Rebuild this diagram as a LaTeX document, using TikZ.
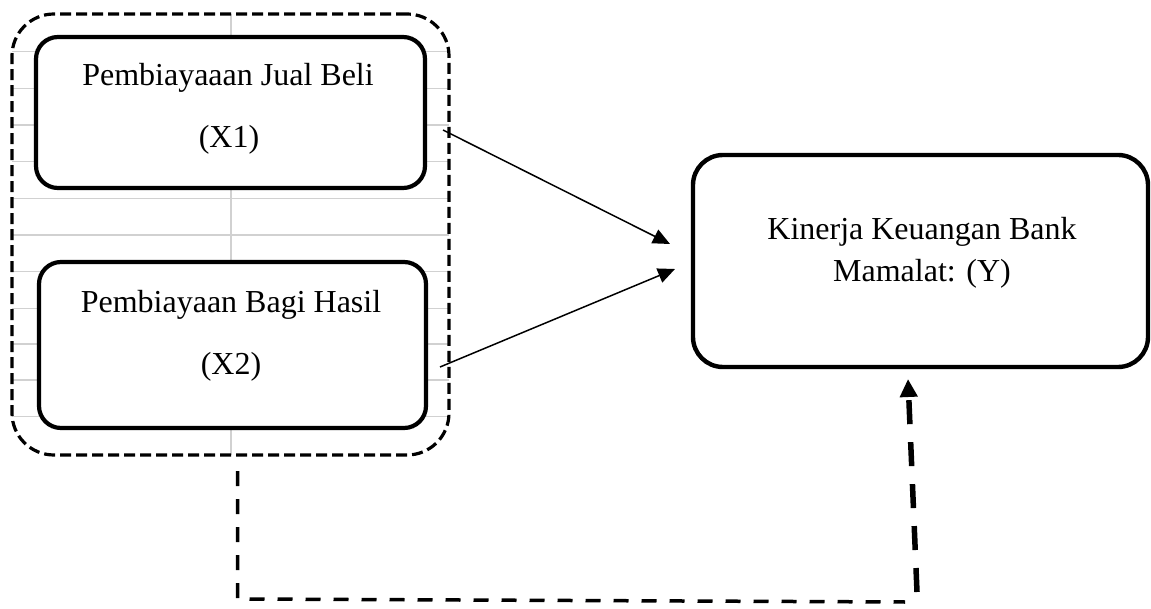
\documentclass[tikz,border=0pt]{standalone}
\usepackage{fontspec}
\setmainfont{Liberation Serif}
\usetikzlibrary{arrows.meta}
\begin{document}
\begin{tikzpicture}[x=1pt,y=-1pt,
  box/.style={draw=black, line width=4.2pt, rounded corners=22pt, fill=white, inner sep=0pt},
  groupbox/.style={draw=black, line width=3.2pt, dash pattern=on 11pt off 5pt, rounded corners=42pt, inner sep=0pt},
  ybox/.style={draw=black, line width=4.4pt, rounded corners=30pt, inner sep=0pt},
  lbl/.style={anchor=base, font=\fontsize{32}{38}\selectfont, inner sep=0pt},
  gridline/.style={draw=black!18, line width=1.5pt},
  conn/.style={draw=black, line width=1.5pt, -{Triangle[length=17pt,width=15pt]}},
  fbline/.style={draw=black, line width=3.5pt, dash pattern=on 15pt off 13pt},
  upline/.style={draw=black, line width=5.5pt, dash pattern=on 24pt off 18pt, -{Triangle[length=18pt,width=17pt]}}]
\useasboundingbox (0,0) rectangle (1151,609);
% background spreadsheet grid
\begin{scope}
\clip[rounded corners=42pt] (12,14) rectangle (449,455);
\foreach \yy in {51.7,88.3,125,161.7,198.3,235,271.7,308.3,344,380,416.7}
  \draw[gridline] (12,\yy) -- (449,\yy);
\draw[gridline] (231,14) -- (231,455);
\end{scope}
% group box
\node[groupbox, minimum width=437pt, minimum height=441pt] (grp) at (230.5,234.5) {};
% boxes
\node[box, minimum width=389pt, minimum height=151pt] (x1) at (230.5,112.5) {};
\node[box, minimum width=387pt, minimum height=166pt] (x2) at (232.5,345) {};
\node[ybox, minimum width=455pt, minimum height=212pt] (y) at (920.5,261) {};
% labels
\node[lbl] (x1a) at (228,86) {Pembiayaaan Jual Beli};
\node[lbl] (x1b) at (229,148) {(X1)};
\node[lbl] (x2a) at (231,313) {Pembiayaan Bagi Hasil};
\node[lbl] (x2b) at (231,375) {(X2)};
\node[lbl] (ya) at (922,240) {Kinerja Keuangan Bank};
\node[lbl] (yb) at (922,282) {Mamalat: (Y)};
% arrows
\coordinate (a1s) at (443,130);
\coordinate (a1e) at (670,244);
\coordinate (a2s) at (440,367);
\coordinate (a2e) at (675,269);
\draw[conn] (a1s) -- (a1e);
\draw[conn] (a2s) -- (a2e);
% feedback path
\coordinate (f1) at (237.5,471);
\coordinate (f2) at (237.5,599);
\coordinate (f3) at (905,602);
\draw[fbline] (f1) -- (f2) -- (f3);
\coordinate (u1) at (917,592);
\coordinate (u2) at (908,379);
\draw[upline] (u1) -- (u2);
\end{tikzpicture}
\end{document}
